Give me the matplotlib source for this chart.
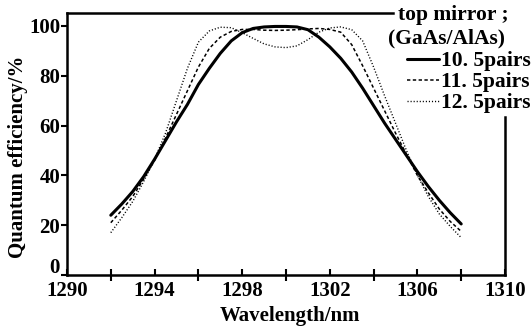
import matplotlib
matplotlib.use("Agg")
import matplotlib.pyplot as plt
import matplotlib.transforms as mtransforms

plt.rcParams['font.family'] = ['Liberation Serif', 'DejaVu Serif']

# ---- data ----
wl = [1292, 1292.5, 1293, 1293.5, 1294, 1294.5, 1295, 1295.5, 1296, 1296.5,
      1297, 1297.5, 1298, 1298.5, 1299, 1299.5, 1300, 1300.5, 1301, 1301.5,
      1302, 1302.5, 1303, 1303.5, 1304, 1304.5, 1305, 1305.5, 1306, 1306.5,
      1307, 1307.5, 1308]
qe_105 = [24, 28.5, 33.5, 39.5, 46.5, 54, 61.5, 68.5, 76.5, 83,
          89, 94, 97.3, 99, 99.6, 99.8, 99.8, 99.6, 98.5, 95.5,
          91.6, 87, 81.5, 75, 68, 61, 54.5, 48, 41.5, 35.5,
          30, 25, 20.5]
qe_115 = [21, 26, 31.5, 38.5, 46, 55, 64.5, 74, 83.5, 91,
          95.5, 97.8, 98.6, 98.6, 98.3, 98.2, 98.3, 98.5, 98.8, 99,
          98.6, 97.5, 92.5, 84, 75, 66, 57, 48.5, 40, 33,
          26.5, 21.5, 17.5]
qe_125 = [17, 23, 29.5, 37.5, 46.5, 57, 70, 83, 93.5, 98,
          99.5, 99.3, 97.3, 95, 92.8, 91.6, 91.3, 92, 94.5, 97.5,
          99.2, 99.6, 98.5, 94, 83.5, 72, 61, 50, 40, 31.5,
          24.5, 19.5, 15]
series_labels = ["10. 5pairs", "11. 5pairs", "12. 5pairs"]
header = ["top mirror ;", "(GaAs/AlAs)"]
xticks = [1290, 1294, 1298, 1302, 1306, 1310]
xminor = [1292, 1296, 1300, 1304, 1308]
yticks = [0, 20, 40, 60, 80, 100]

W, H = 531, 329
fig = plt.figure(figsize=(W / 100, H / 100), dpi=100)
ax = fig.add_axes([67 / W, 1 - 275 / H, 438 / W, 262 / H])

h1, = ax.plot(wl, qe_105, color='black', lw=2.2, solid_capstyle='round')
h2, = ax.plot(wl, qe_115, color='black', lw=1.1, linestyle=(0, (2.2, 1.6)))
h3, = ax.plot(wl, qe_125, color='black', lw=1.0, linestyle=(0, (0.8, 1.4)))

ax.set_xlim(1290, 1310)
ax.set_ylim(0, 105.2)
ax.set_xticks(xticks)
ax.set_xticks(xminor, minor=True)
ax.set_yticks(yticks)

for s in ax.spines.values():
    s.set_linewidth(1.8)
ax.spines['top'].set_bounds(1290, 1304.9)
ax.spines['right'].set_bounds(0, 63.5)

ax.tick_params(axis='x', which='major', direction='in', length=4, width=1.5,
               labelsize=15, pad=4)
ax.tick_params(axis='x', which='minor', direction='inout', length=8, width=1.5)
ax.tick_params(axis='y', which='major', direction='out', length=4, width=1.5,
               labelsize=15, pad=1)
for lab in ax.get_xticklabels() + ax.get_yticklabels():
    lab.set_fontweight('bold')

# lift the "0" label a little, as in the reference, so it clears "1290"
fig.canvas.draw()
zero_lab = ax.get_yticklabels()[0]
zero_lab.set_transform(zero_lab.get_transform() +
                       mtransforms.ScaledTranslation(0, 7 / 72, fig.dpi_scale_trans))

ax.set_xlabel("Wavelength/nm", fontsize=15, fontweight='bold')
ax.xaxis.set_label_coords(0.509, -0.118)
ax.set_ylabel("Quantum efficiency/%", fontsize=15, fontweight='bold')
ax.yaxis.set_label_coords(-0.088, 0.45)

fig.text(398 / W, 1 - 20 / H, header[0], fontsize=15.5, fontweight='bold',
         ha='left', va='baseline')
fig.text(388 / W, 1 - 43 / H, header[1], fontsize=15.5, fontweight='bold',
         ha='left', va='baseline')

leg = ax.legend([h1, h2, h3], series_labels, loc='upper left',
                bbox_to_anchor=(407 / W, 1 - 51 / H), bbox_transform=fig.transFigure,
                frameon=False, prop={'weight': 'bold', 'size': 15.5},
                handlelength=1.5, handletextpad=0.1, labelspacing=0.05,
                borderpad=0, borderaxespad=0)

fig.savefig("out.png", dpi=100)
